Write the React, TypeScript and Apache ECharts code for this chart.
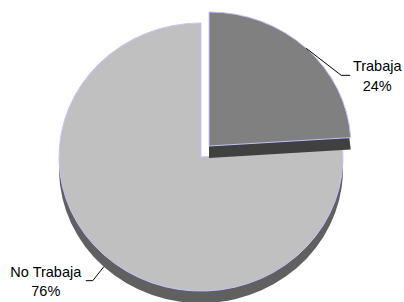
import React, { useEffect, useRef } from "react";
import * as echarts from "echarts";

// ---- data ----
const categories = ["Trabaja", "No Trabaja"];
const values = [24, 76];
const percentLabels = ["24%", "76%"];

// ---- layout / style ----
const topColors = ["#808080", "#c0c0c0"];
const sideColors = ["#404040", "#606060"];
const CENTER = [201, 157];
const RX = 142;
const RY = 134;
const DEPTH = 12;
const EXPLODE = [
  [8, -11],
  [0, 0],
];
const LABEL_LAYOUT = [
  { elbow: [35, 27], end: [44, 27], text: [71, 18], gap: 20 },
  { elbow: [-11, 14], end: [-18, 14], text: [-58, 5], gap: 19 },
];
const FONT = { fontSize: 14.5, fontFamily: '"Liberation Sans", Arial, sans-serif' };

export default function App() {
  const ref = useRef<HTMLDivElement>(null);
  useEffect(() => {
    if (!ref.current) return;
    const chart = echarts.init(ref.current, undefined, { renderer: "svg" });
    const total = values.reduce((a, b) => a + b, 0);
    chart.setOption({
      animation: false,
      backgroundColor: "#ffffff",
      series: [
        {
          type: "custom",
          coordinateSystem: "none",
          data: categories.map((c, i) => ({ name: c, value: values[i] })),
          renderItem: (params: any, api: any) => {
            const i = params.dataIndex;
            let before = 0;
            for (let k = 0; k < i; k++) before += values[k];
            const v = api.value(0);
            const start = -Math.PI / 2 + (before / total) * 2 * Math.PI;
            const end = start + (v / total) * 2 * Math.PI;
            const cx = CENTER[0] + EXPLODE[i][0];
            const cy = CENTER[1] + EXPLODE[i][1];
            const sy = RY / RX;
            const mid = (start + end) / 2;
            const ax = cx + RX * Math.cos(mid);
            let ay = cy + RY * Math.sin(mid);
            if (Math.sin(mid) > 0) ay += DEPTH;
            const L = LABEL_LAYOUT[i];
            const base = i === 0 ? 10 : 0;
            const shape = { cx: 0, cy: 0, r: RX, r0: 0, startAngle: start, endAngle: end, clockwise: true };
            return {
              type: "group",
              children: [
                {
                  type: "sector",
                  x: cx,
                  y: cy + DEPTH,
                  scaleY: sy,
                  shape,
                  style: { fill: sideColors[i] },
                  z2: base,
                },
                {
                  type: "sector",
                  x: cx,
                  y: cy,
                  scaleY: sy,
                  shape,
                  style: { fill: topColors[i], stroke: "#c4c4ff", lineWidth: 1, strokeNoScale: true },
                  z2: base + 1,
                },
                {
                  type: "polyline",
                  shape: {
                    points: [
                      [ax, ay],
                      [ax + L.elbow[0], ay + L.elbow[1]],
                      [ax + L.end[0], ay + L.end[1]],
                    ],
                  },
                  style: { stroke: "#000000", lineWidth: 1, fill: null },
                  z2: base + 2,
                },
                {
                  type: "text",
                  x: ax + L.text[0],
                  y: ay + L.text[1],
                  style: { text: categories[i], fill: "#000000", align: "center", verticalAlign: "middle", ...FONT },
                  z2: 40,
                },
                {
                  type: "text",
                  x: ax + L.text[0],
                  y: ay + L.text[1] + L.gap,
                  style: { text: percentLabels[i], fill: "#000000", align: "center", verticalAlign: "middle", ...FONT },
                  z2: 40,
                },
              ],
            };
          },
        },
      ],
    });
    return () => chart.dispose();
  }, []);
  return (
    <div
      ref={ref}
      style={{ position: "fixed", left: 0, top: 0, width: 404, height: 302, background: "#fff" }}
    />
  );
}
